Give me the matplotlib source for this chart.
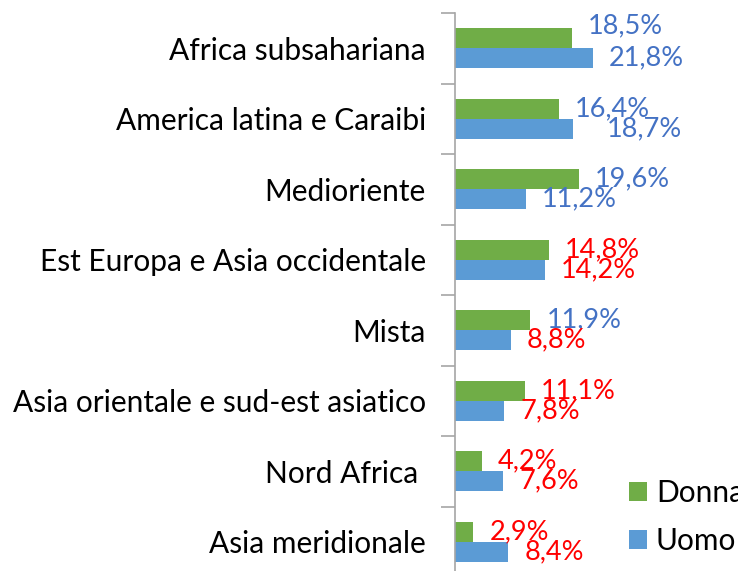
import matplotlib
matplotlib.use("Agg")
import matplotlib.pyplot as plt
import numpy as np

categories = ["Africa subsahariana", "America latina e Caraibi", "Medioriente",
              "Est Europa e Asia occidentale", "Mista",
              "Asia orientale e sud-est asiatico", "Nord Africa ", "Asia meridionale"]
donna = [18.5, 16.4, 19.6, 14.8, 11.9, 11.1, 4.2, 2.9]
uomo = [21.8, 18.7, 11.2, 14.2, 8.8, 7.8, 7.6, 8.4]
donna_lbl = ["18,5%", "16,4%", "19,6%", "14,8%", "11,9%", "11,1%", "4,2%", "2,9%"]
uomo_lbl = ["21,8%", "18,7%", "11,2%", "14,2%", "8,8%", "7,8%", "7,6%", "8,4%"]
BLUE_T = "#4472C4"
RED_T = "#FF0000"
donna_col = [BLUE_T, BLUE_T, BLUE_T, RED_T, BLUE_T, RED_T, RED_T, RED_T]
uomo_col = [BLUE_T, BLUE_T, BLUE_T, RED_T, RED_T, RED_T, RED_T, RED_T]

plt.rcParams['font.family'] = ['Lato', 'DejaVu Sans']
FS = 21.5
FS_LBL = 19.5

fig = plt.figure(figsize=(7.38, 5.71), dpi=100)
ax = fig.add_axes([455/738, -6/571, 283/738, 564/571])

n = len(categories)
y = np.arange(n)
h = 0.284
ax.barh(y - h/2, donna, height=h, color="#70AD47", label="Donna")
ax.barh(y + h/2, uomo, height=h, color="#5B9BD5", label="Uomo")
ax.set_ylim(n - 0.5, -0.5)
ax.set_xlim(0, 283/6.33)

for i in range(n):
    dx_d, dy_d = 16, 0
    dx_u, dy_u = 16, 0
    if i == 0:
        dy_d = 12
    if i == 1:
        dx_u = 33
    ax.annotate(donna_lbl[i], (donna[i], y[i] - h/2), xytext=(dx_d, dy_d),
                textcoords='offset pixels', ha='left', va='center',
                color=donna_col[i], fontsize=FS_LBL, annotation_clip=False)
    ax.annotate(uomo_lbl[i], (uomo[i], y[i] + h/2), xytext=(dx_u, dy_u),
                textcoords='offset pixels', ha='left', va='center',
                color=uomo_col[i], fontsize=FS_LBL, annotation_clip=False)

for s in ["top", "right", "bottom"]:
    ax.spines[s].set_visible(False)
ax.spines["left"].set_color("#A6A6A6")
ax.spines["left"].set_linewidth(1.2)
ax.set_xticks([])
ax.set_yticks(y)
ax.set_yticklabels(categories, fontsize=FS)
ax.tick_params(axis='y', which='major', length=0, pad=21)
ax.set_yticks(np.arange(-0.5, n, 1), minor=True)
ax.tick_params(axis='y', which='minor', length=10, color="#A6A6A6", width=1.2)

leg = fig.legend(loc='center left', bbox_to_anchor=(629/738, 1 - 517/571),
                 frameon=False, fontsize=FS, handlelength=0.6, handleheight=0.6,
                 handletextpad=0.3, labelspacing=0.65, borderaxespad=0, borderpad=0)

fig.savefig("out.png", dpi=100)
